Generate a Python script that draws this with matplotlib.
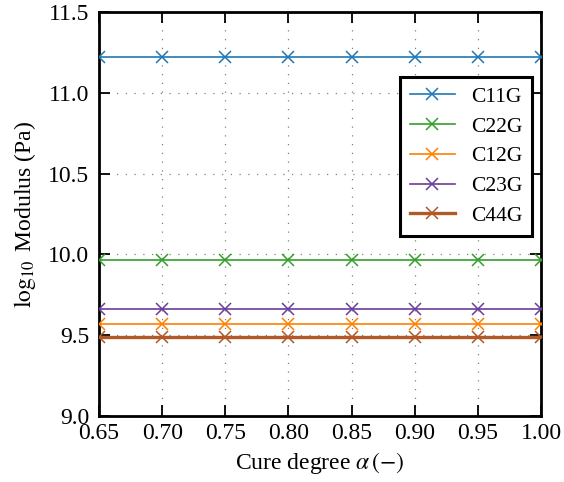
import matplotlib
matplotlib.use("Agg")
import matplotlib.pyplot as plt

alpha = [0.65, 0.70, 0.75, 0.80, 0.85, 0.90, 0.95, 1.00]
labels = ["C11G", "C22G", "C12G", "C23G", "C44G"]
values = [11.223, 9.965, 9.567, 9.660, 9.486]
colors = ["#1f78b4", "#33a02c", "#ff7f00", "#6a3d9a", "#b15928"]
widths = [1.2, 1.2, 1.2, 1.2, 2.4]

plt.rcParams["font.family"] = ["Liberation Serif", "DejaVu Serif"]
plt.rcParams["mathtext.fontset"] = "stix"
plt.rcParams["font.size"] = 17

fig = plt.figure(figsize=(5.64, 4.82), dpi=100)
ax = fig.add_axes([99 / 564, 1 - 416 / 482, 442 / 564, 404 / 482])

for lab, v, c, w in zip(labels, values, colors, widths):
    ax.plot(alpha, [v] * len(alpha), marker="x", color=c, lw=w,
            markersize=8, markeredgewidth=1.1, label=lab, zorder=3)

ax.set_xlim(0.65, 1.0)
ax.set_ylim(9.0, 11.5)
ax.set_xticks(alpha)
ax.set_yticks([9.0, 9.5, 10.0, 10.5, 11.0, 11.5])
ax.xaxis.set_major_formatter(matplotlib.ticker.FormatStrFormatter("%.2f"))
ax.yaxis.set_major_formatter(matplotlib.ticker.FormatStrFormatter("%.1f"))
ax.tick_params(direction="in", length=8, width=1.3, labelsize=17,
               top=True, right=True)
ax.tick_params(axis="y", pad=7)
ax.tick_params(axis="x", pad=5)
ax.grid(True, linestyle=(0, (1, 6)), color="gray", lw=0.9)
for s in ax.spines.values():
    s.set_linewidth(2)

ax.set_xlabel(r"Cure degree $\alpha\,(-)$", fontsize=17, labelpad=4)
ax.set_ylabel(r"$\log_{10}$ Modulus (Pa)", fontsize=17, labelpad=7)

leg = ax.legend(loc="upper right", bbox_to_anchor=(0.98, 0.839), borderaxespad=0,
                fancybox=False, framealpha=1, edgecolor="black", fontsize=15.5,
                handlelength=2.1, handletextpad=0.75, borderpad=0.45,
                labelspacing=0.45)
leg.get_frame().set_linewidth(2.2)

fig.savefig("out.png", dpi=100)
